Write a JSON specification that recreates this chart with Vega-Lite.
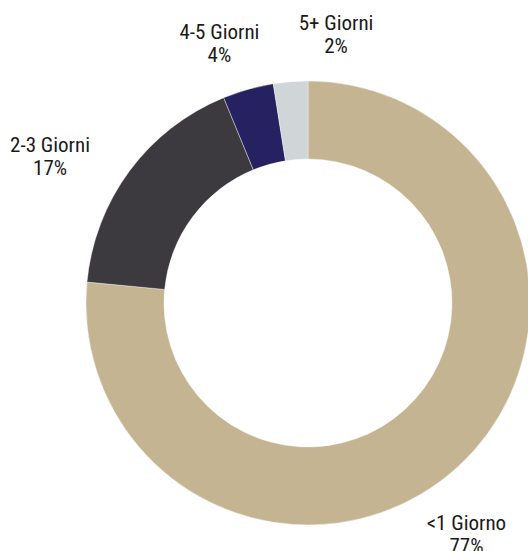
{
  "$schema": "https://vega.github.io/schema/vega-lite/v6.json",
  "width": 440,
  "height": 496,
  "padding": {"left": 88, "top": 55, "right": 0, "bottom": 0},
  "autosize": {"type": "none"},
  "background": "white",
  "config": {"view": {"stroke": null}, "text": {"font": "Liberation Sans Narrow, Roboto Condensed, Roboto", "fontSize": 21, "lineHeight": 23, "lineBreak": "\n", "color": "#1a1a1a"}},
  "data": {"values": [
    {"cat": "<1 Giorno", "share": 76.5, "pct": 77, "ord": 1},
    {"cat": "2-3 Giorni", "share": 17.3, "pct": 17, "ord": 2},
    {"cat": "4-5 Giorni", "share": 3.7, "pct": 4, "ord": 3},
    {"cat": "5+ Giorni", "share": 2.5, "pct": 2, "ord": 4}
  ]},
  "transform": [
    {"stack": "share", "groupby": [], "sort": [{"field": "ord", "order": "ascending"}], "as": ["t0", "t1"]},
    {"calculate": "(datum.t0 + datum.t1) / 2", "as": "mid"},
    {"calculate": "datum.cat + '\\n' + datum.pct + '%'", "as": "lab"}
  ],
  "layer": [
    {
      "mark": {"type": "arc", "outerRadius": 222, "innerRadius": 144, "stroke": "white", "strokeWidth": 0.4},
      "encoding": {
        "theta": {"field": "t0", "type": "quantitative", "stack": null, "scale": {"domain": [0, 100]}},
        "theta2": {"field": "t1"},
        "color": {"field": "cat", "type": "nominal", "legend": null,
          "scale": {"domain": ["<1 Giorno", "2-3 Giorni", "4-5 Giorni", "5+ Giorni"], "range": ["#C4B491", "#3C3A3F", "#262262", "#D0D5D8"]}}
      }
    },
    {
      "transform": [{"filter": "datum.ord == 1"}],
      "mark": {"type": "text", "radius": 280, "dx": -30, "dy": 14, "align": "center", "baseline": "middle"},
      "encoding": {"theta": {"field": "mid", "type": "quantitative", "stack": null, "scale": {"domain": [0, 100]}}, "text": {"field": "lab"}}
    },
    {
      "transform": [{"filter": "datum.ord == 2"}],
      "mark": {"type": "text", "radius": 280, "dx": -33, "dy": 10, "align": "center", "baseline": "middle"},
      "encoding": {"theta": {"field": "mid", "type": "quantitative", "stack": null, "scale": {"domain": [0, 100]}}, "text": {"field": "lab"}}
    },
    {
      "transform": [{"filter": "datum.ord == 3"}],
      "mark": {"type": "text", "radius": 280, "dx": -13, "dy": 0, "align": "center", "baseline": "middle"},
      "encoding": {"theta": {"field": "mid", "type": "quantitative", "stack": null, "scale": {"domain": [0, 100]}}, "text": {"field": "lab"}}
    },
    {
      "transform": [{"filter": "datum.ord == 4"}],
      "mark": {"type": "text", "radius": 280, "dx": 50, "dy": 0, "align": "center", "baseline": "middle"},
      "encoding": {"theta": {"field": "mid", "type": "quantitative", "stack": null, "scale": {"domain": [0, 100]}}, "text": {"field": "lab"}}
    }
  ]
}
